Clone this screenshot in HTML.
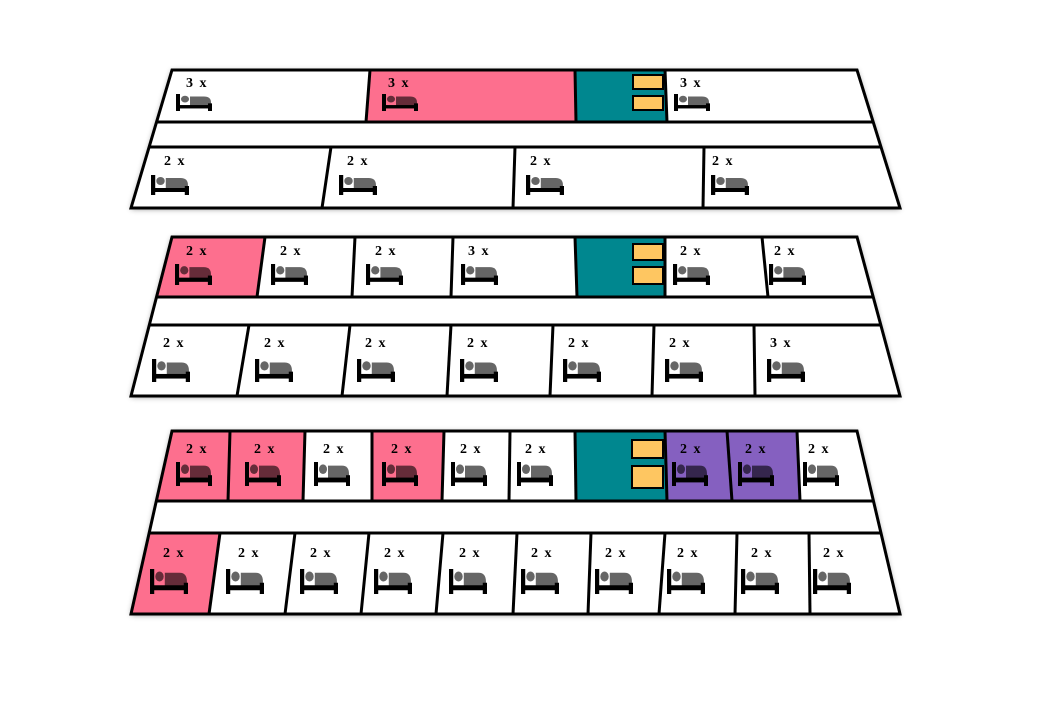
<!DOCTYPE html>
<html><head><meta charset="utf-8"><style>
html,body{margin:0;padding:0;background:#fff;width:1054px;height:720px;overflow:hidden}
text{font-family:"Liberation Serif",serif;font-weight:bold;font-size:14px;letter-spacing:1.5px;fill:#000}
</style></head><body>
<svg width="1054" height="720" viewBox="0 0 1054 720" xmlns="http://www.w3.org/2000/svg">
<defs>
<filter id="sh" x="-5%" y="-10%" width="110%" height="120%"><feDropShadow dx="0" dy="1" stdDeviation="3" flood-color="#000" flood-opacity="0.45"/></filter>
<symbol id="bed" viewBox="0 0 36 20" preserveAspectRatio="none">
<circle cx="9" cy="6" r="4" fill="#000" fill-opacity="0.6"/>
<path d="M14 3 H28 Q35 3 35 10 V14 H14 Z" fill="#000" fill-opacity="0.6"/>
<rect x="0" y="0" width="4" height="20" fill="#000"/>
<rect x="0" y="13" width="36" height="4" fill="#000"/>
<rect x="32" y="11" width="4" height="9" fill="#000"/>
</symbol>
</defs>

<!-- Floor 1 -->
<polygon points="172,70 857,70 900,208 131,208" fill="#fff" filter="url(#sh)"/>
<polygon points="370,70 575,70 576,122 366,122" fill="#fd6f8e"/>
<polygon points="575,70 665,70 667,122 576,122" fill="#00878f"/>
<g stroke="#000" stroke-width="3" fill="none">
<line x1="156.5" y1="122" x2="873" y2="122"/><line x1="149" y1="147" x2="881" y2="147"/>
<line x1="370" y1="70" x2="366" y2="122"/><line x1="575" y1="70" x2="576" y2="122"/><line x1="665" y1="70" x2="667" y2="122"/>
<line x1="331" y1="147" x2="322" y2="208"/><line x1="515" y1="147" x2="513" y2="208"/><line x1="704" y1="147" x2="703" y2="208"/>
<polygon points="172,70 857,70 900,208 131,208"/>
</g>
<rect x="633" y="75" width="30" height="14" fill="#fec661" stroke="#000" stroke-width="2"/>
<rect x="633" y="96" width="30" height="14" fill="#fec661" stroke="#000" stroke-width="2"/>
<text x="186" y="87">3 x</text><text x="388" y="87">3 x</text><text x="680" y="87">3 x</text>
<use href="#bed" x="176" y="94" width="36" height="17"/><use href="#bed" x="382" y="94" width="36" height="17"/><use href="#bed" x="674" y="94" width="36" height="17"/>
<text x="164" y="165">2 x</text><text x="347" y="165">2 x</text><text x="530" y="165">2 x</text><text x="712" y="165">2 x</text>
<use href="#bed" x="151" y="175" width="38" height="20"/><use href="#bed" x="339" y="175" width="38" height="20"/><use href="#bed" x="526" y="175" width="38" height="20"/><use href="#bed" x="711" y="175" width="38" height="20"/>

<!-- Floor 2 -->
<polygon points="172,237 857,237 900,396 131,396" fill="#fff" filter="url(#sh)"/>
<polygon points="172,237 265,237 257,297 156.5,297" fill="#fd6f8e"/>
<polygon points="575,237 665,237 665,297 577,297" fill="#00878f"/>
<g stroke="#000" stroke-width="3" fill="none">
<line x1="156.5" y1="297" x2="873" y2="297"/><line x1="149" y1="325" x2="881" y2="325"/>
<line x1="265" y1="237" x2="257" y2="297"/><line x1="355" y1="237" x2="352" y2="297"/><line x1="453" y1="237" x2="451" y2="297"/><line x1="575" y1="237" x2="577" y2="297"/><line x1="665" y1="237" x2="665" y2="297"/><line x1="762" y1="237" x2="768" y2="297"/>
<line x1="249" y1="325" x2="237" y2="396"/><line x1="350" y1="325" x2="342" y2="396"/><line x1="451" y1="325" x2="447" y2="396"/><line x1="553" y1="325" x2="550" y2="396"/><line x1="654" y1="325" x2="652" y2="396"/><line x1="754" y1="325" x2="755" y2="396"/>
<polygon points="172,237 857,237 900,396 131,396"/>
</g>
<rect x="633" y="244" width="30" height="16" fill="#fec661" stroke="#000" stroke-width="2"/>
<rect x="633" y="267" width="30" height="17" fill="#fec661" stroke="#000" stroke-width="2"/>
<text x="186" y="255">2 x</text><text x="280" y="255">2 x</text><text x="375" y="255">2 x</text><text x="468" y="255">3 x</text><text x="680" y="255">2 x</text><text x="774" y="255">2 x</text>
<use href="#bed" x="175" y="264" width="37" height="21"/><use href="#bed" x="271" y="264" width="37" height="21"/><use href="#bed" x="366" y="264" width="37" height="21"/><use href="#bed" x="461" y="264" width="37" height="21"/><use href="#bed" x="673" y="264" width="37" height="21"/><use href="#bed" x="769" y="264" width="37" height="21"/>
<text x="163" y="347">2 x</text><text x="264" y="347">2 x</text><text x="365" y="347">2 x</text><text x="467" y="347">2 x</text><text x="568" y="347">2 x</text><text x="669" y="347">2 x</text><text x="770" y="347">3 x</text>
<use href="#bed" x="152" y="359" width="38" height="23"/><use href="#bed" x="255" y="359" width="38" height="23"/><use href="#bed" x="357" y="359" width="38" height="23"/><use href="#bed" x="460" y="359" width="38" height="23"/><use href="#bed" x="563" y="359" width="38" height="23"/><use href="#bed" x="665" y="359" width="38" height="23"/><use href="#bed" x="767" y="359" width="38" height="23"/>

<!-- Floor 3 -->
<polygon points="172,431 857,431 900,614 131,614" fill="#fff" filter="url(#sh)"/>
<polygon points="172,431 230,431 228,501 156.3,501" fill="#fd6f8e"/>
<polygon points="230,431 305,431 303,501 228,501" fill="#fd6f8e"/>
<polygon points="372,431 444,431 442,501 372,501" fill="#fd6f8e"/>
<polygon points="575,431 665,431 667,501 576,501" fill="#00878f"/>
<polygon points="665,431 727,431 732,501 667,501" fill="#8560c0"/>
<polygon points="727,431 797,431 800,501 732,501" fill="#8560c0"/>
<polygon points="149,533 220,533 209,614 131,614" fill="#fd6f8e"/>
<g stroke="#000" stroke-width="3" fill="none">
<line x1="156.3" y1="501" x2="873.5" y2="501"/><line x1="149" y1="533" x2="881" y2="533"/>
<line x1="230" y1="431" x2="228" y2="501"/><line x1="305" y1="431" x2="303" y2="501"/><line x1="372" y1="431" x2="372" y2="501"/><line x1="444" y1="431" x2="442" y2="501"/><line x1="510" y1="431" x2="509" y2="501"/><line x1="575" y1="431" x2="576" y2="501"/><line x1="665" y1="431" x2="667" y2="501"/><line x1="727" y1="431" x2="732" y2="501"/><line x1="797" y1="431" x2="800" y2="501"/>
<line x1="220" y1="533" x2="209" y2="614"/><line x1="295" y1="533" x2="285" y2="614"/><line x1="369" y1="533" x2="361" y2="614"/><line x1="443" y1="533" x2="436" y2="614"/><line x1="517" y1="533" x2="513" y2="614"/><line x1="591" y1="533" x2="588" y2="614"/><line x1="665" y1="533" x2="659" y2="614"/><line x1="737" y1="533" x2="735" y2="614"/><line x1="809" y1="533" x2="810" y2="614"/>
<polygon points="172,431 857,431 900,614 131,614"/>
</g>
<rect x="632" y="440" width="31" height="18" fill="#fec661" stroke="#000" stroke-width="2"/>
<rect x="632" y="466" width="31" height="22" fill="#fec661" stroke="#000" stroke-width="2"/>
<text x="186" y="453">2 x</text><text x="254" y="453">2 x</text><text x="323" y="453">2 x</text><text x="391" y="453">2 x</text><text x="460" y="453">2 x</text><text x="525" y="453">2 x</text><text x="680" y="453">2 x</text><text x="745" y="453">2 x</text><text x="808" y="453">2 x</text>
<use href="#bed" x="176" y="462" width="36" height="24"/><use href="#bed" x="245" y="462" width="36" height="24"/><use href="#bed" x="314" y="462" width="36" height="24"/><use href="#bed" x="382" y="462" width="36" height="24"/><use href="#bed" x="451" y="462" width="36" height="24"/><use href="#bed" x="517" y="462" width="36" height="24"/><use href="#bed" x="672" y="462" width="36" height="24"/><use href="#bed" x="738" y="462" width="36" height="24"/><use href="#bed" x="803" y="462" width="36" height="24"/>
<text x="163" y="557">2 x</text><text x="238" y="557">2 x</text><text x="310" y="557">2 x</text><text x="384" y="557">2 x</text><text x="459" y="557">2 x</text><text x="531" y="557">2 x</text><text x="605" y="557">2 x</text><text x="677" y="557">2 x</text><text x="751" y="557">2 x</text><text x="823" y="557">2 x</text>
<use href="#bed" x="150" y="569" width="38" height="25"/><use href="#bed" x="226" y="569" width="38" height="25"/><use href="#bed" x="300" y="569" width="38" height="25"/><use href="#bed" x="374" y="569" width="38" height="25"/><use href="#bed" x="449" y="569" width="38" height="25"/><use href="#bed" x="521" y="569" width="38" height="25"/><use href="#bed" x="595" y="569" width="38" height="25"/><use href="#bed" x="667" y="569" width="38" height="25"/><use href="#bed" x="741" y="569" width="38" height="25"/><use href="#bed" x="813" y="569" width="38" height="25"/>
</svg>
</body></html>
